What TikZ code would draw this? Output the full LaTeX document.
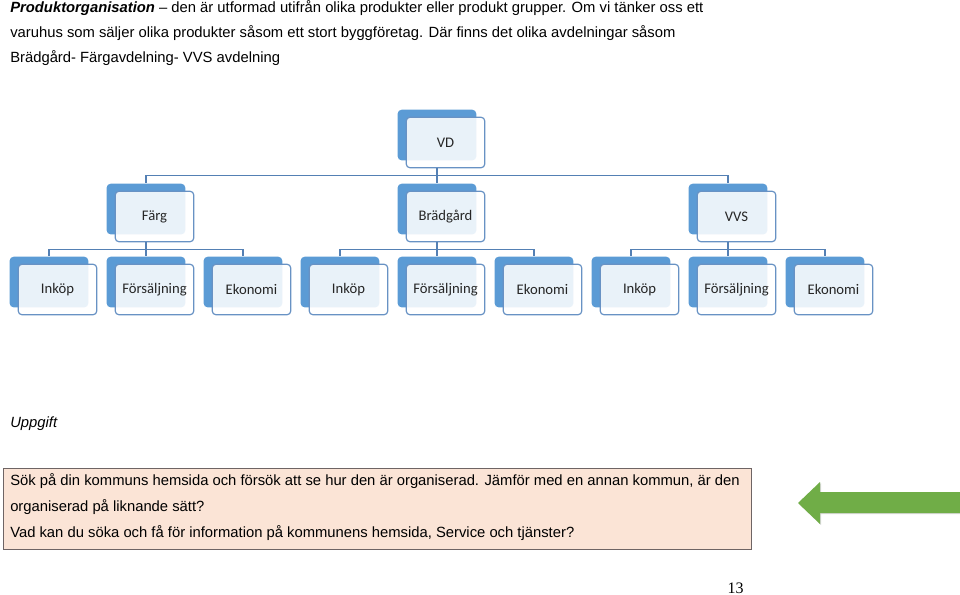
\documentclass[tikz,border=0pt]{standalone}
\usepackage{fontspec}
\setmainfont{Liberation Sans}
\newfontfamily\boxfont{Carlito}
\newfontfamily\pagefont{Liberation Serif}
\usetikzlibrary{shadows}
\definecolor{shadeblue}{RGB}{91,155,213}
\definecolor{edgeblue}{RGB}{104,146,196}
\definecolor{lineblue}{RGB}{84,128,180}
\definecolor{taskfill}{RGB}{251,228,214}
\definecolor{taskedge}{RGB}{110,100,100}
\definecolor{arrowgreen}{RGB}{112,173,71}
\begin{document}
\begin{tikzpicture}[x=0.75pt, y=-0.75pt,
    orgbox/.style={draw=edgeblue, line width=0.9pt, rounded corners=3pt, fill=white,
      fill opacity=0.87, text opacity=1, minimum width=59pt, minimum height=38pt,
      inner sep=0pt, text=black!85, font=\boxfont\fontsize{11}{13}\selectfont,
      general shadow={fill=shadeblue, fill opacity=1, shadow xshift=-6.4pt, shadow yshift=5.6pt}},
    orgline/.style={draw=lineblue, line width=0.8pt},
    bodytext/.style={anchor=base west, inner sep=0pt, font=\fontsize{11.1}{13}\selectfont}]
    \useasboundingbox (0,0) rectangle (960,595);

    % Intro text
    \node[bodytext] (intro1) at (10,12.5) {\textbf{\textit{Produktorganisation}} – den är utformad utifrån olika produkter eller produkt grupper. Om vi tänker oss ett};
    \node[bodytext] (intro2) at (10,38) {varuhus som säljer olika produkter såsom ett stort byggföretag. Där finns det olika avdelningar såsom};
    \node[bodytext] (intro3) at (10,63) {Brädgård- Färgavdelning- VVS avdelning};

    % Top level
    \node[orgbox] (vd) at (445.5,142.5) {VD};

    % Departments
    \node[orgbox] (farg) at (154.5,216.5) {Färg};
    \node[orgbox] (brad) at (445.5,216.5) {Brädgård};
    \node[orgbox] (vvs) at (736.5,216.5) {VVS};

    % Functions
    \node[orgbox] (farg1) at (57.5,289.5) {Inköp};
    \node[orgbox] (farg2) at (154.5,289.5) {Försäljning};
    \node[orgbox] (farg3) at (251.5,289.5) {Ekonomi};
    \node[orgbox] (brad1) at (348.5,289.5) {Inköp};
    \node[orgbox] (brad2) at (445.5,289.5) {Försäljning};
    \node[orgbox] (brad3) at (542.5,289.5) {Ekonomi};
    \node[orgbox] (vvs1) at (639.5,289.5) {Inköp};
    \node[orgbox] (vvs2) at (736.5,289.5) {Försäljning};
    \node[orgbox] (vvs3) at (833.5,289.5) {Ekonomi};

    % Connectors
    \draw[orgline] ([xshift=-6.4pt]vd.south) -- ++(0,7) -| ([xshift=-6.4pt, yshift=5.6pt]farg.north);
    \draw[orgline] ([xshift=-6.4pt]vd.south) -- ([xshift=-6.4pt, yshift=5.6pt]brad.north);
    \draw[orgline] ([xshift=-6.4pt]vd.south) -- ++(0,7) -| ([xshift=-6.4pt, yshift=5.6pt]vvs.north);
    \draw[orgline] ([xshift=-6.4pt]farg.south) -- ++(0,7) -| ([xshift=-6.4pt, yshift=5.6pt]farg1.north);
    \draw[orgline] ([xshift=-6.4pt]farg.south) -- ([xshift=-6.4pt, yshift=5.6pt]farg2.north);
    \draw[orgline] ([xshift=-6.4pt]farg.south) -- ++(0,7) -| ([xshift=-6.4pt, yshift=5.6pt]farg3.north);
    \draw[orgline] ([xshift=-6.4pt]brad.south) -- ++(0,7) -| ([xshift=-6.4pt, yshift=5.6pt]brad1.north);
    \draw[orgline] ([xshift=-6.4pt]brad.south) -- ([xshift=-6.4pt, yshift=5.6pt]brad2.north);
    \draw[orgline] ([xshift=-6.4pt]brad.south) -- ++(0,7) -| ([xshift=-6.4pt, yshift=5.6pt]brad3.north);
    \draw[orgline] ([xshift=-6.4pt]vvs.south) -- ++(0,7) -| ([xshift=-6.4pt, yshift=5.6pt]vvs1.north);
    \draw[orgline] ([xshift=-6.4pt]vvs.south) -- ([xshift=-6.4pt, yshift=5.6pt]vvs2.north);
    \draw[orgline] ([xshift=-6.4pt]vvs.south) -- ++(0,7) -| ([xshift=-6.4pt, yshift=5.6pt]vvs3.north);

    % Task
    \node[bodytext, font=\itshape\fontsize{11.1}{13}\selectfont] (uppgift) at (10,427) {Uppgift};
    \node[draw=taskedge, fill=taskfill, line width=0.7pt, anchor=north west, inner sep=0pt,
      minimum width=561pt, minimum height=60.75pt] (task) at (3,468) {};
    \node[bodytext] (task1) at (10,485) {Sök på din kommuns hemsida och försök att se hur den är organiserad. Jämför med en annan kommun, är den};
    \node[bodytext] (task2) at (10,511) {organiserad på liknande sätt?};
    \node[bodytext] (task3) at (10,537) {Vad kan du söka och få för information på kommunens hemsida, Service och tjänster?};

    % Arrow
    \fill[arrowgreen, drop shadow={opacity=0.3, shadow xshift=0.8pt, shadow yshift=-0.8pt}]
      (798,503) -- (820,482) -- (820,492) -- (960,492) -- (960,513) -- (820,513) -- (820,524) -- cycle;

    % Page number
    \node[anchor=base east, inner sep=0pt, font=\pagefont\fontsize{12}{14}\selectfont] (page) at (744,593) {13};
\end{tikzpicture}
\end{document}
